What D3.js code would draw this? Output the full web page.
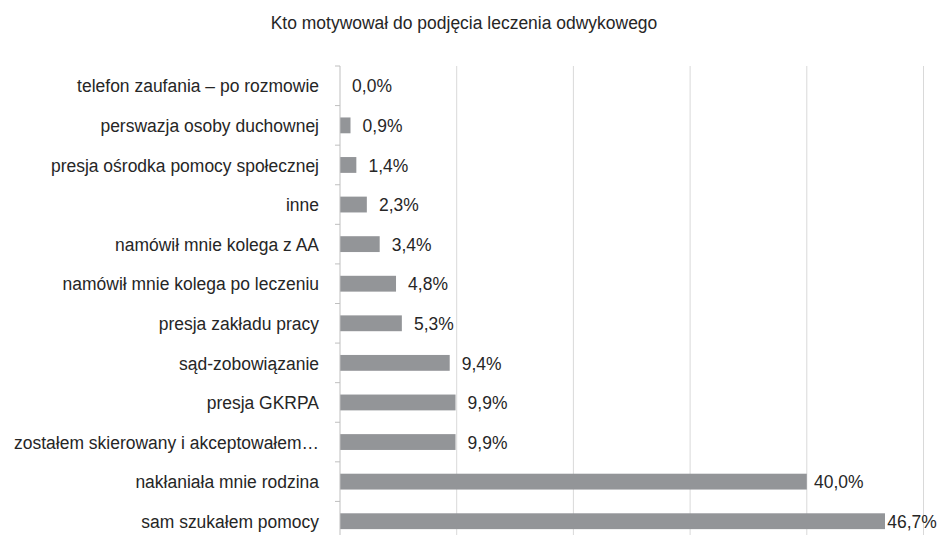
<!DOCTYPE html>
<html>
<head>
<meta charset="utf-8">
<script src="https://cdn.jsdelivr.net/npm/d3@7"></script>
<style>
  body { margin: 0; background: #fff; }
  text { font-family: "Liberation Sans", Arial, sans-serif; fill: #262626; }
</style>
</head>
<body>
<svg id="chart" width="939" height="535"></svg>
<script>
// Chart data
const categories = [
  'telefon zaufania – po rozmowie',
  'perswazja osoby duchownej',
  'presja ośrodka pomocy społecznej',
  'inne',
  'namówił mnie kolega z AA',
  'namówił mnie kolega po leczeniu',
  'presja zakładu pracy',
  'sąd-zobowiązanie',
  'presja GKRPA',
  'zostałem skierowany i akceptowałem…',
  'nakłaniała mnie rodzina',
  'sam szukałem pomocy'
];
const values = [0.0, 0.9, 1.4, 2.3, 3.4, 4.8, 5.3, 9.4, 9.9, 9.9, 40.0, 46.7];
const gridTicks = [0, 10, 20, 30, 40, 50];
const title = 'Kto motywował do podjęcia leczenia odwykowego';

const svg = d3.select('#chart');
const margin = { top: 66, bottom: 541, left: 340, right: 923.5 };
const squeeze = 0.92;   // the source font is a bit condensed

const x = d3.scaleLinear()
  .domain([0, 50])
  .range([margin.left, margin.right]);

const y = d3.scaleBand()
  .domain(categories)
  .range([margin.top, margin.bottom])
  .paddingInner(0.6)
  .paddingOuter(0.3);

const fmt = v => v.toFixed(1).replace('.', ',') + '%';
const place = (px, py) => `translate(${px},${py}) scale(${squeeze},1)`;

// Title
svg.append('text')
  .attr('transform', place(464, 29))
  .attr('text-anchor', 'middle')
  .style('font-size', '19px')
  .text(title);

// Vertical gridlines
svg.append('g')
  .selectAll('line')
  .data(gridTicks.slice(1))
  .enter()
  .append('line')
  .attr('x1', d => x(d))
  .attr('x2', d => x(d))
  .attr('y1', margin.top)
  .attr('y2', margin.bottom)
  .attr('stroke', '#d9d9d9')
  .attr('stroke-width', 1);

// Bars
svg.append('g')
  .selectAll('rect')
  .data(values)
  .enter()
  .append('rect')
  .attr('x', x(0))
  .attr('y', (d, i) => y(categories[i]))
  .attr('width', d => x(d) - x(0))
  .attr('height', y.bandwidth())
  .attr('fill', '#939598');

// Category axis with tick marks between bands
const step = y.step();
const boundaries = d3.range(categories.length + 1).map(i => margin.top + i * step);
const axis = svg.append('g');
axis.append('line')
  .attr('x1', x(0)).attr('x2', x(0))
  .attr('y1', margin.top).attr('y2', margin.bottom)
  .attr('stroke', '#bfbfbf');
axis.selectAll('.tick')
  .data(boundaries)
  .enter()
  .append('line')
  .attr('x1', x(0) - 5).attr('x2', x(0))
  .attr('y1', d => d).attr('y2', d => d)
  .attr('stroke', '#bfbfbf');

axis.selectAll('.cat')
  .data(categories)
  .enter()
  .append('text')
  .attr('transform', d => place(319, y(d) + y.bandwidth() / 2))
  .attr('dy', '0.35em')
  .attr('text-anchor', 'end')
  .style('font-size', '19px')
  .text(d => d);

// Value labels, centred in a fixed-width box just past the bar end
svg.append('g')
  .selectAll('text')
  .data(values)
  .enter()
  .append('text')
  .attr('transform', (d, i) => place(Math.min(x(d) + 32, 912), y(categories[i]) + y.bandwidth() / 2))
  .attr('dy', '0.35em')
  .attr('text-anchor', 'middle')
  .style('font-size', '19px')
  .text(d => fmt(d));
</script>
</body>
</html>
